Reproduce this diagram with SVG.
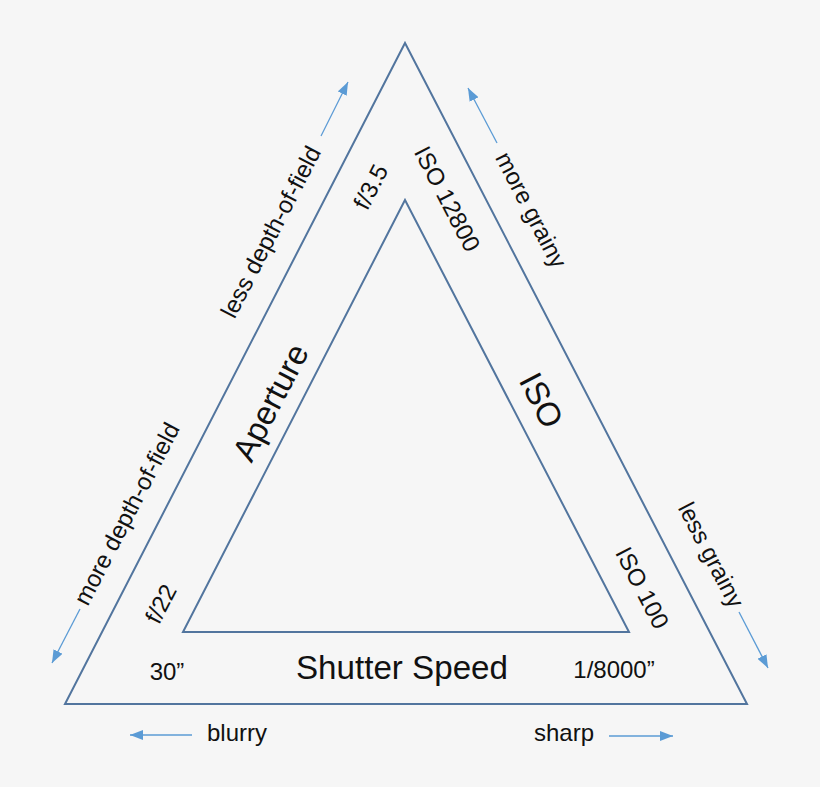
<svg xmlns="http://www.w3.org/2000/svg" width="820" height="787" viewBox="0 0 820 787">
<defs>
<style>
.tri{fill:none;stroke:#52759e;stroke-width:2;stroke-linejoin:miter}
.arr{stroke:#5b9bd5;stroke-width:1.3;fill:none;marker-end:url(#ah)}
.s{font-family:"Liberation Sans",Arial,sans-serif;font-size:24px;fill:#111;text-anchor:middle}
.b{font-family:"Liberation Sans",Arial,sans-serif;font-size:33px;fill:#111;text-anchor:middle}
</style>
<marker id="ah" markerUnits="userSpaceOnUse" markerWidth="13" markerHeight="10" refX="13" refY="5" orient="auto">
<path d="M0,0 L13,5 L0,10 z" fill="#5b9bd5"/>
</marker>
</defs>
<rect width="820" height="787" fill="#f6f6f6"/>
<g id="outer-triangle"><polygon class="tri" points="405,43 747,704 65,704"/></g>
<g id="inner-triangle"><polygon class="tri" points="405,200 629,632 183,632"/></g>
<g id="connectors">
<line class="arr" x1="321" y1="136" x2="348" y2="82"/>
<line class="arr" x1="497" y1="143" x2="468" y2="88"/>
<line class="arr" x1="80" y1="609" x2="52" y2="663"/>
<line class="arr" x1="739" y1="612" x2="768" y2="668"/>
<line class="arr" x1="192" y1="735" x2="130" y2="735"/>
<line class="arr" x1="609" y1="736" x2="673" y2="736"/>
</g>
<g id="aperture">
<text class="b" transform="translate(270,402) rotate(-62.6)" y="12">Aperture</text>
<text class="s" transform="translate(371,187) rotate(-62.6)" y="8">f/3.5</text>
<text class="s" transform="translate(161,604) rotate(-62.6)" y="8">f/22</text>
<text class="s" transform="translate(271,232) rotate(-62.6)" y="8">less depth-of-field</text>
<text class="s" transform="translate(127,514) rotate(-62.6)" y="8">more depth-of-field</text>
</g>
<g id="iso">
<text class="b" transform="translate(542,400) rotate(62.6)" y="12">ISO</text>
<text class="s" transform="translate(447,199) rotate(62.6)" y="8">ISO 12800</text>
<text class="s" transform="translate(642,588) rotate(62.6)" y="8">ISO 100</text>
<text class="s" transform="translate(531,210) rotate(62.6)" y="8">more grainy</text>
<text class="s" transform="translate(711,555) rotate(62.6)" y="8">less grainy</text>
</g>
<g id="shutter">
<text class="b" x="402" y="679" textLength="212" lengthAdjust="spacingAndGlyphs">Shutter Speed</text>
<text class="s" x="167" y="680">30”</text>
<text class="s" x="614" y="678">1/8000”</text>
<text class="s" x="237" y="741">blurry</text>
<text class="s" x="564" y="741">sharp</text>
</g>
</svg>
